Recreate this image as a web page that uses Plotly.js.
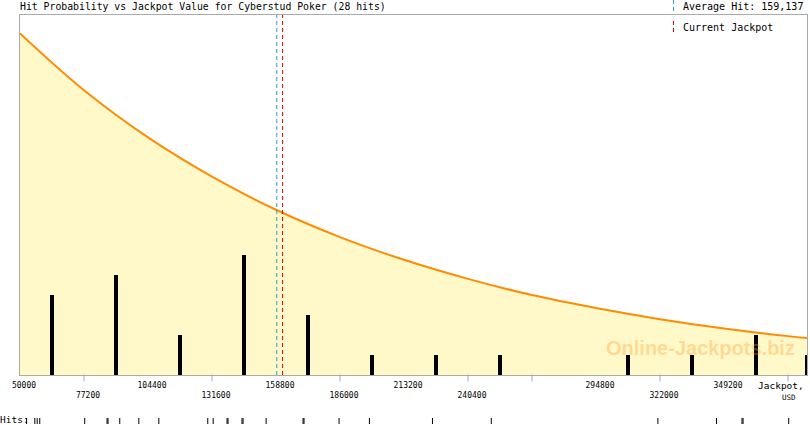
<!DOCTYPE html>
<html>
<head>
<meta charset="utf-8">
<script src="https://cdn.plot.ly/plotly-3.0.1.min.js"></script>
<style>html,body{margin:0;padding:0;background:#fff;}#chart{width:810px;height:425px;}</style>
</head>
<body>
<div id="chart"></div>
<script>
// ---- data ----
const curveX = [50000, 77200, 104400, 131600, 158800, 186000, 213200, 240400, 267600, 294800, 322000, 349200, 376400, 384475];
const curveP = [0.949, 0.791, 0.660, 0.551, 0.459, 0.383, 0.320, 0.267, 0.222, 0.186, 0.155, 0.129, 0.108, 0.103];
const binCenters = [63600, 90800, 118000, 145200, 172400, 199600, 226800, 254000, 308400, 335600, 362800, 384200];
const binCounts = [4, 5, 2, 6, 3, 1, 1, 1, 1, 1, 2, 1];
const hitValues = [52800, 56300, 57300, 58400, 77500, 87000, 87400, 92400, 100500, 109000, 129800, 132100,
  138000, 138400, 144350, 144800, 154600, 170300, 170700, 185600, 198500, 225300, 250300, 321100,
  346000, 356850, 357300, 376700];
const avgHit = 159137;
const currentJackpot = 161600;
const topTicks = [50000, 104400, 158800, 213200, 294800, 349200];
const bottomTicks = [77200, 131600, 186000, 240400, 322000];
const markTicks = [77200, 131600, 186000, 240400, 267600, 322000, 376400];

// ---- geometry helpers (pixels -> paper) ----
const W = 810, H = 425, ML = 20, MR = 3, MT = 15, MB = 0;
const PW = W - ML - MR, PH = H - MT - MB;
const px = x => (x - ML) / PW;
const py = y => (H - MB - y) / PH;

const mono = "DejaVu Sans Mono, monospace";
const xRange = [50000, 384475];

const tickvals = topTicks.concat(bottomTicks);
const ticktext = topTicks.map(String).concat(bottomTicks.map(v => '<br>' + v));

const traces = [
  { x: curveX, y: curveP, type: 'scatter', mode: 'lines', xaxis: 'x', yaxis: 'y',
    line: { color: '#ff8c00', width: 2, shape: 'spline' },
    fill: 'tozeroy', fillcolor: '#fff8c8', hoverinfo: 'skip' },
  { x: binCenters, y: binCounts, type: 'bar', xaxis: 'x', yaxis: 'y3', width: 1500,
    marker: { color: '#000000', line: { width: 0 } } },
  { x: [avgHit, avgHit], y: [0, 18], type: 'scatter', mode: 'lines', xaxis: 'x', yaxis: 'y3',
    line: { color: '#3399cc', width: 1, dash: '4px,3px' } },
  { x: [currentJackpot, currentJackpot], y: [0, 18], type: 'scatter', mode: 'lines', xaxis: 'x', yaxis: 'y3',
    line: { color: '#e00000', width: 1, dash: '4px,3px' } },
  { x: hitValues, y: hitValues.map(() => 1), type: 'scatter', mode: 'markers', xaxis: 'x', yaxis: 'y2',
    marker: { symbol: 'line-ns', size: 6, color: '#000', line: { color: '#000', width: 1 } } },
  { x: markTicks, y: markTicks.map(() => 0.5), type: 'scatter', mode: 'markers', xaxis: 'x', yaxis: 'y4',
    marker: { symbol: 'line-ns', size: 5, color: '#aaaaaa', line: { color: '#aaaaaa', width: 1 } },
    cliponaxis: false }
];

const layout = {
  width: W, height: H,
  margin: { l: ML, r: MR, t: MT, b: MB, pad: 0 },
  paper_bgcolor: '#ffffff', plot_bgcolor: '#ffffff',
  showlegend: false,
  bargap: 0,
  title: { text: 'Hit Probability vs Jackpot Value for Cyberstud Poker (28 hits)',
    font: { family: mono, size: 9.8, color: '#000' },
    xref: 'container', yref: 'container', x: 20 / W, xanchor: 'left', y: 1 - 7 / H, yanchor: 'middle' },
  xaxis: { range: xRange, domain: [0, 1], anchor: 'y', showgrid: false, zeroline: false,
    showline: true, linecolor: '#aaaaaa', linewidth: 1, mirror: true,
    ticks: '', tickvals: tickvals, ticktext: ticktext, ticklabelshift: 4, ticklabelstandoff: 2,
    tickfont: { family: mono, size: 8, color: '#000' }, fixedrange: true },
  yaxis: { range: [0, 1], domain: [py(375), 1], anchor: 'x', showgrid: false, zeroline: false,
    showline: true, linecolor: '#aaaaaa', linewidth: 1, mirror: true,
    ticks: '', showticklabels: false, fixedrange: true },
  yaxis3: { range: [0, 18], overlaying: 'y', anchor: 'x', showgrid: false, zeroline: false,
    showline: false, showticklabels: false, ticks: '' },
  yaxis2: { range: [0, 2], domain: [py(424), py(418)], anchor: 'x', visible: false },
  yaxis4: { range: [0, 1], domain: [py(380.5), py(375.5)], anchor: 'x', visible: false },
  shapes: [
    { type: 'line', xref: 'paper', yref: 'paper', x0: px(673.5), x1: px(673.5), y0: py(0), y1: py(11),
      line: { color: '#3399cc', width: 1, dash: '4px,3px' } },
    { type: 'line', xref: 'paper', yref: 'paper', x0: px(673.5), x1: px(673.5), y0: py(21), y1: py(33),
      line: { color: '#e00000', width: 1, dash: '4px,3px' } }
  ],
  annotations: [
    { text: 'Average Hit: 159,137', xref: 'paper', yref: 'paper', x: px(681), y: py(7),
      xanchor: 'left', yanchor: 'middle', showarrow: false, font: { family: mono, size: 10, color: '#000' } },
    { text: 'Current Jackpot', xref: 'paper', yref: 'paper', x: px(681), y: py(27),
      xanchor: 'left', yanchor: 'middle', showarrow: false, font: { family: mono, size: 10, color: '#000' } },
    { text: 'Jackpot,', xref: 'paper', yref: 'paper', x: px(806), y: py(385),
      xanchor: 'right', yanchor: 'middle', showarrow: false, font: { family: mono, size: 9.5, color: '#000' } },
    { text: 'USD', xref: 'paper', yref: 'paper', x: px(798), y: py(397),
      xanchor: 'right', yanchor: 'middle', showarrow: false, font: { family: mono, size: 7.5, color: '#000' } },
    { text: 'Hits:', xref: 'paper', yref: 'paper', x: px(-2), y: py(419.5),
      xanchor: 'left', yanchor: 'middle', showarrow: false, font: { family: mono, size: 9.5, color: '#000' } },
    { text: '<b>Online-Jackpots.biz</b>', xref: 'paper', yref: 'paper', x: px(700), y: py(348),
      xanchor: 'center', yanchor: 'middle', showarrow: false,
      font: { family: 'Liberation Sans, Arial, sans-serif', size: 20, color: 'rgba(255,160,40,0.35)' } }
  ]
};

Plotly.newPlot('chart', traces, layout, { displayModeBar: false, staticPlot: true });
</script>
</body>
</html>
